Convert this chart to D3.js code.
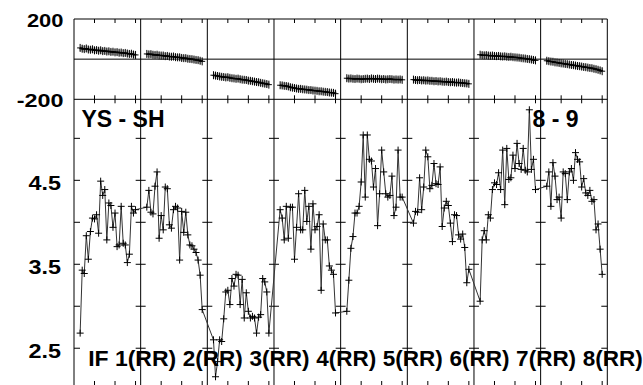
<!DOCTYPE html>
<html><head><meta charset="utf-8">
<script src="https://cdn.jsdelivr.net/npm/d3@7"></script>
<style>
html,body{margin:0;padding:0;background:#fff;}
svg{display:block;}
text{font-family:"Liberation Sans",Arial,Helvetica,sans-serif;font-weight:bold;fill:#000;}
</style></head>
<body>
<svg id="chart" width="643" height="385"></svg>
<script>
// ---------- data ----------
const segmentLabels = ["IF 1(RR)","2(RR)","3(RR)","4(RR)","5(RR)","6(RR)","7(RR)","8(RR)"];
const topTickLabels = [200, -200];
const bottomTickLabels = [4.5, 3.5, 2.5];
const bottomMinorTicks = [5.0, 4.5, 4.0, 3.5, 3.0, 2.5];
const xTicksPerSegment = [0, 10, 20, 30];
const pointOffsets = [3,4,5,6,7,8,9,10,11,12,13,14,15,16,17,18,19,20,21,22,23,24,25,26,27,28,29,30];
const titleLeft = "YS - SH";
const titleRight = "8 - 9";

// top panel series (one array per segment)
const top1 = [56,52,50,53,48,47,49,44,45,42,44,40,41,38,39,36,37,34,35,32,33,30,31,28,26,27,23,21];
const top2 = [26,24,25,22,21,22,19,18,18,15,16,13,12,13,10,9,9,6,5,5,2,1,0,-2,-4,-5,-8,-11];
const top3 = [-80,-82,-84,-86,-88,-89,-91,-90,-93,-95,-96,-98,-97,-100,-102,-103,-104,-107,-108,-110,-112,-114,-115,-118,-120,-122,-124,-127];
const top4 = [-130,-131,-133,-134,-136,-140,-142,-144,-146,-148,-148,-150,-151,-152,-154,-154,-156,-157,-158,-160,-160,-162,-163,-164,-166,-167,-168,-172];
const top5 = [-95,-97,-96,-98,-99,-97,-98,-100,-99,-98,-97,-99,-96,-98,-99,-97,-98,-100,-99,-101,-100,-99,-100,-102,-101,-102,-101,-103];
const top6 = [-102,-104,-105,-104,-106,-105,-107,-106,-108,-108,-110,-109,-111,-110,-112,-113,-112,-114,-115,-114,-116,-117,-116,-118,-119,-120,-121,-123];
const top7 = [22,20,19,20,18,17,18,16,15,16,14,13,14,12,11,12,10,9,8,7,5,4,3,1,0,-2,-4,-6];
const top8 = [-8,-10,-12,-13,-16,-17,-19,-21,-22,-24,-25,-27,-29,-30,-32,-34,-35,-37,-39,-40,-42,-44,-45,-48,-50,-53,-56,-60];

// bottom panel series
const bot1 = [2.68,3.43,3.39,3.84,3.56,3.89,4.05,4.04,4.09,3.87,4.49,4.32,4.39,3.79,4.23,4.20,3.94,4.11,3.71,3.73,4.19,3.75,3.73,3.52,3.62,4.19,4.11,4.15];
const bot2 = [4.18,4.38,4.12,4.10,4.43,4.60,3.81,4.08,3.91,4.42,4.40,3.97,3.93,4.15,4.19,4.17,3.55,4.13,3.88,4.12,3.85,3.73,3.72,3.68,3.64,3.55,3.37,2.96];
const bot3 = [2.60,2.16,2.34,2.60,2.58,2.85,3.17,3.19,3.02,3.33,3.24,3.38,3.37,3.02,3.32,2.86,3.16,2.94,2.86,2.88,2.86,2.68,2.87,2.90,3.33,3.29,3.17,2.68];
const bot4 = [4.15,4.05,3.79,4.19,3.81,4.18,4.18,3.56,3.94,4.34,3.91,3.91,4.38,4.01,4.19,3.68,4.22,3.91,3.95,4.09,3.19,3.98,3.79,3.79,3.48,3.43,3.38,2.92];
const bot5 = [2.94,3.31,3.69,3.83,4.11,4.11,4.19,4.48,5.04,4.30,5.04,4.75,4.73,4.42,4.64,3.96,4.34,4.86,4.60,4.34,4.30,4.32,4.55,4.08,4.18,4.86,4.30,4.30];
const bot6 = [3.99,4.13,4.12,4.53,4.15,4.42,4.86,4.78,4.40,4.44,4.70,4.46,4.45,4.66,3.95,4.17,4.25,4.20,3.99,3.77,4.09,4.08,3.85,3.80,3.86,3.70,3.28,3.44];
const bot7 = [3.06,3.79,3.90,3.79,4.09,4.05,4.39,4.47,4.45,4.59,4.39,4.86,4.21,4.88,4.51,4.53,4.80,4.64,4.94,4.70,4.63,4.88,4.62,4.60,5.34,4.63,4.75,4.39];
const bot8 = [4.43,4.60,4.19,4.71,4.55,4.27,4.30,4.05,4.60,4.58,4.27,4.60,4.64,4.50,4.83,4.75,4.72,4.42,4.52,4.35,4.32,4.38,4.25,4.27,3.91,3.98,3.68,3.38];

const topSeries = [top1,top2,top3,top4,top5,top6,top7,top8];
const botSeries = [bot1,bot2,bot3,bot4,bot5,bot6,bot7,bot8];
const SEG = 32.5; // x-units per segment

// ---------- layout ----------
const L = 74, R = 607.3, T = 19, MID = 99.3, B = 386;
const svg = d3.select("#chart");

const x = d3.scaleLinear().domain([0, SEG*segmentLabels.length]).range([L, R]);
const yTop = d3.scaleLinear().domain([-200, 200]).range([MID, T]);
const yBot = d3.scaleLinear().domain([2.05, 5.465]).range([B, MID]);

const segIdx = d3.range(segmentLabels.length);

function pts(series, i){ return series.map((v,k)=>({x: i*SEG + pointOffsets[k], v})); }
const topPts = topSeries.map((s,i)=>pts(s,i));
const botPts = botSeries.map((s,i)=>pts(s,i)).flat();

// frame lines
const frame = svg.append("g").attr("stroke","#000").attr("stroke-width",1).attr("fill","none");
frame.append("line").attr("x1",L).attr("x2",R).attr("y1",T).attr("y2",T);
frame.append("line").attr("x1",L).attr("x2",R).attr("y1",yTop(0)).attr("y2",yTop(0));
frame.append("line").attr("x1",L).attr("x2",R).attr("y1",MID).attr("y2",MID);
frame.selectAll(".sep").data(d3.range(segmentLabels.length+1)).enter().append("line")
  .attr("x1",i=>x(i*SEG)).attr("x2",i=>x(i*SEG)).attr("y1",T).attr("y2",B);

// x ticks for each segment
const xt = [];
segIdx.forEach(i=>xTicksPerSegment.forEach(t=>{ if(t>0) xt.push(i*SEG+t); }));
const tk = svg.append("g").attr("stroke","#000").attr("stroke-width",1);
xt.forEach(t=>{
  const px = x(t);
  tk.append("line").attr("x1",px).attr("x2",px).attr("y1",T).attr("y2",T+4);
  tk.append("line").attr("x1",px).attr("x2",px).attr("y1",MID-4).attr("y2",MID+4);
  tk.append("line").attr("x1",px).attr("x2",px).attr("y1",B-5).attr("y2",B);
});
// y ticks on bottom panel at every separator
bottomMinorTicks.forEach(v=>{
  const py = yBot(v);
  d3.range(segmentLabels.length+1).forEach(i=>{
    const px = x(i*SEG);
    let x1 = px-5, x2 = px+5;
    if(i===0){ x1 = px; x2 = px+6; }
    if(i===segmentLabels.length){ x1 = px-6; x2 = px; }
    tk.append("line").attr("x1",x1).attr("x2",x2).attr("y1",py).attr("y2",py);
  });
});

// top series
const lineTop = d3.line().x(d=>x(d.x)).y(d=>yTop(d.v));
topPts.forEach(p=>{
  svg.append("path").attr("d",lineTop(p)).attr("fill","none").attr("stroke","#999").attr("stroke-width",6).attr("stroke-opacity",0.55);
  svg.append("path").attr("d",lineTop(p)).attr("fill","none").attr("stroke","#000").attr("stroke-width",1.4);
  const g = svg.append("g").attr("stroke","#000").attr("stroke-width",1);
  g.selectAll("path").data(p).enter().append("path")
    .attr("d",d=>{const cx=x(d.x), cy=yTop(d.v); return `M${cx-3},${cy}H${cx+3}M${cx},${cy-4}V${cy+4}`;});
});

// bottom series
const lineBot = d3.line().x(d=>x(d.x)).y(d=>yBot(d.v));
svg.append("path").attr("d",lineBot(botPts)).attr("fill","none").attr("stroke","#333").attr("stroke-width",1);
svg.append("g").attr("stroke","#000").attr("stroke-width",1)
  .selectAll("path").data(botPts).enter().append("path")
  .attr("d",d=>{const cx=x(d.x), cy=yBot(d.v); return `M${cx-3.5},${cy}H${cx+3.5}M${cx},${cy-3.5}V${cy+3.5}`;});

// y labels
topTickLabels.forEach(v=>{
  svg.append("text").attr("x",63.5).attr("y",yTop(v)+7.5).attr("text-anchor","end")
    .attr("font-size",18).attr("textLength", String(v).length*12.2-(v<0?2:0)).attr("lengthAdjust","spacingAndGlyphs").text(v);
});
bottomTickLabels.forEach(v=>{
  svg.append("text").attr("x",61).attr("y",yBot(v)+9.5).attr("text-anchor","end")
    .attr("font-size",21).attr("textLength",32.5).attr("lengthAdjust","spacingAndGlyphs").text(v.toFixed(1));
});

// titles
svg.append("text").attr("x",81.5).attr("y",127).attr("font-size",23).text(titleLeft);
svg.append("text").attr("x",532.5).attr("y",127).attr("font-size",23).text(titleRight);

// segment labels
segIdx.forEach(i=>{
  const w = i===0 ? 88 : 60;
  svg.append("text").attr("x",x((i+1)*SEG)+35.5).attr("y",366).attr("text-anchor","end")
    .attr("font-size",22).attr("textLength",w).attr("lengthAdjust","spacingAndGlyphs").text(segmentLabels[i]);
});
</script>
</body></html>
